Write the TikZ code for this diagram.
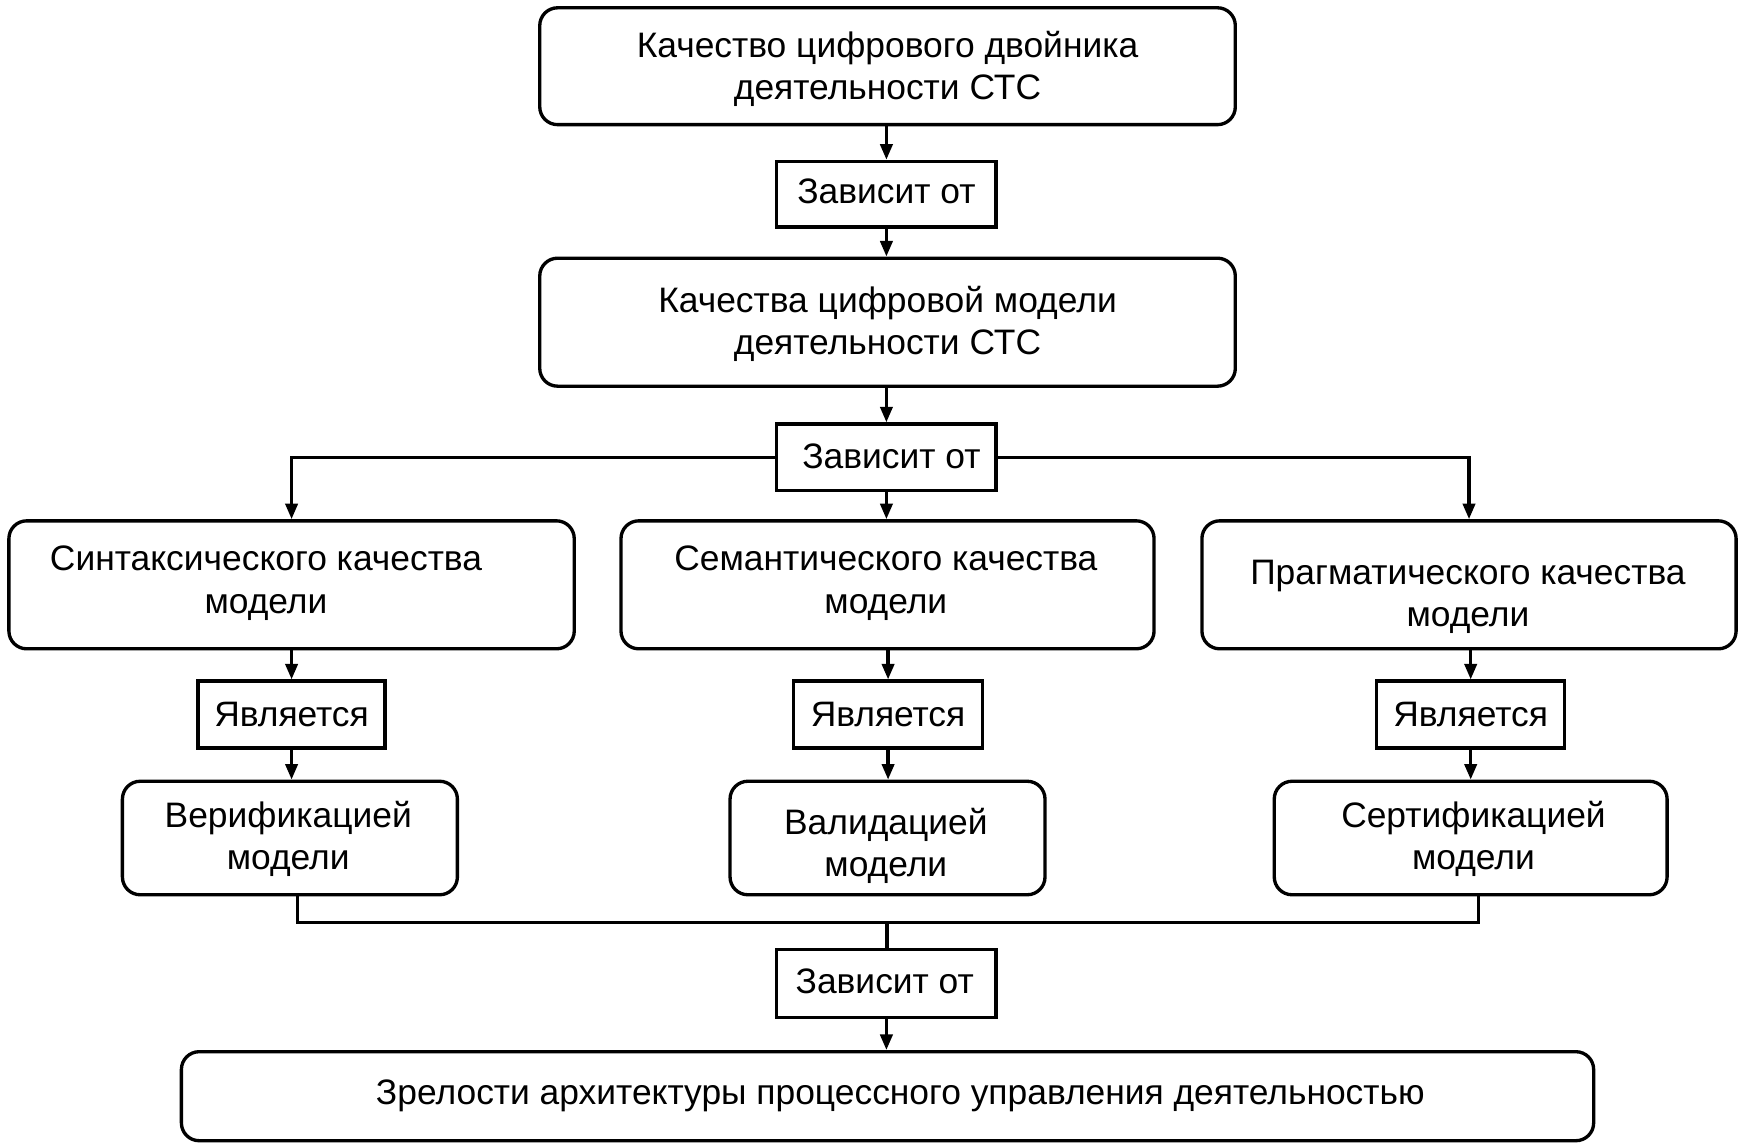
\documentclass[tikz,border=0pt]{standalone}
\usepackage{fontspec}
\setmainfont{Liberation Sans}
\usetikzlibrary{arrows.meta,calc}
\begin{document}
\begin{tikzpicture}[x=1pt,y=-1pt,
  every node/.style={font=\fontsize{31.8}{38}\selectfont, align=center, inner sep=0pt},
  rbox/.style={draw, line width=3pt, rounded corners=16pt, minimum width=#1},
  sbox/.style={draw, line width=3pt, minimum width=#1},
  txt/.style={},
  conn/.style={line width=3pt},
  arr/.style={conn, -{Triangle[length=14pt,width=11pt]}}
]
\useasboundingbox (0,0) rectangle (1568,1031);
% boxes
\node[rbox=625, minimum height=105] (top) at (797.5,59.5) {};
\node[txt] (ttop) at (797.5,62) {Качество цифрового двойника\\деятельности СТС};
\node[sbox=197, minimum height=59] (z1) at (796.5,174.5) {};
\node[txt] (tz1) at (796.5,172) {Зависит от};
\node[rbox=625, minimum height=115] (m2) at (797.5,289.5) {};
\node[txt] (tm2) at (797.5,291) {Качества цифровой модели\\деятельности СТС};
\node[sbox=197, minimum height=60] (z2) at (796.5,411) {};
\node[txt] (tz2) at (801,410) {Зависит от};

\node[rbox=508, minimum height=115] (s1) at (262,525.5) {};
\node[txt] (ts1) at (239,524) {Синтаксического качества\\модели};
\node[rbox=479, minimum height=115] (s2) at (797.5,525.5) {};
\node[txt] (ts2) at (796,524) {Семантического качества\\модели};
\node[rbox=480, minimum height=115] (s3) at (1320,525.5) {};
\node[txt] (ts3) at (1319,536.5) {Прагматического качества\\модели};

\node[sbox=168, minimum height=60] (y1) at (262,642) {Является};
\node[sbox=170, minimum height=60] (y2) at (798,642) {Является};
\node[sbox=169, minimum height=60] (y3) at (1321.5,642) {Является};

\node[rbox=301, minimum height=102] (v1) at (260.5,753) {};
\node[txt] (tv1) at (259,754) {Верификацией\\модели};
\node[rbox=283, minimum height=102] (v2) at (797.5,753) {};
\node[txt] (tv2) at (796,760) {Валидацией\\модели};
\node[rbox=353, minimum height=102] (v3) at (1321.5,753) {};
\node[txt] (tv3) at (1324,754) {Сертификацией\\модели};

\node[sbox=197, minimum height=61] (z3) at (796.5,883.5) {};
\node[txt] (tz3) at (795,882) {Зависит от};
\node[rbox=1269, minimum height=80] (bot) at (797.5,985) {};
\node[txt] (tbot) at (809,985) {Зрелости архитектуры процессного управления деятельностью};

% connectors
\draw[arr] (top.south -| z1.north) -- (z1.north);
\draw[arr] (z1.south) -- (z1.south |- m2.north);
\draw[arr] (m2.south -| z2.north) -- (z2.north);
\draw[arr] (z2.west) -| (s1.north);
\draw[arr] (z2.east) -| (s3.north);
\draw[arr] (z2.south) -- (z2.south |- s2.north);

\draw[arr] (y1.north |- s1.south) -- (y1.north);
\draw[arr] (y2.north |- s2.south) -- (y2.north);
\draw[arr] (y3.north |- s3.south) -- (y3.north);
\draw[arr] (y1.south) -- (y1.south |- v1.north);
\draw[arr] (y2.south) -- (y2.south |- v2.north);
\draw[arr] (y3.south) -- (y3.south |- v3.north);

\coordinate (j) at (797,829);
\draw[conn] ([xshift=7pt]v1.south) |- (j);
\draw[conn] ([xshift=7pt]v3.south) |- (j);
\draw[conn] (j) -- (j |- z3.north);
\draw[arr] (z3.south) -- (z3.south |- bot.north);
\end{tikzpicture}
\end{document}
